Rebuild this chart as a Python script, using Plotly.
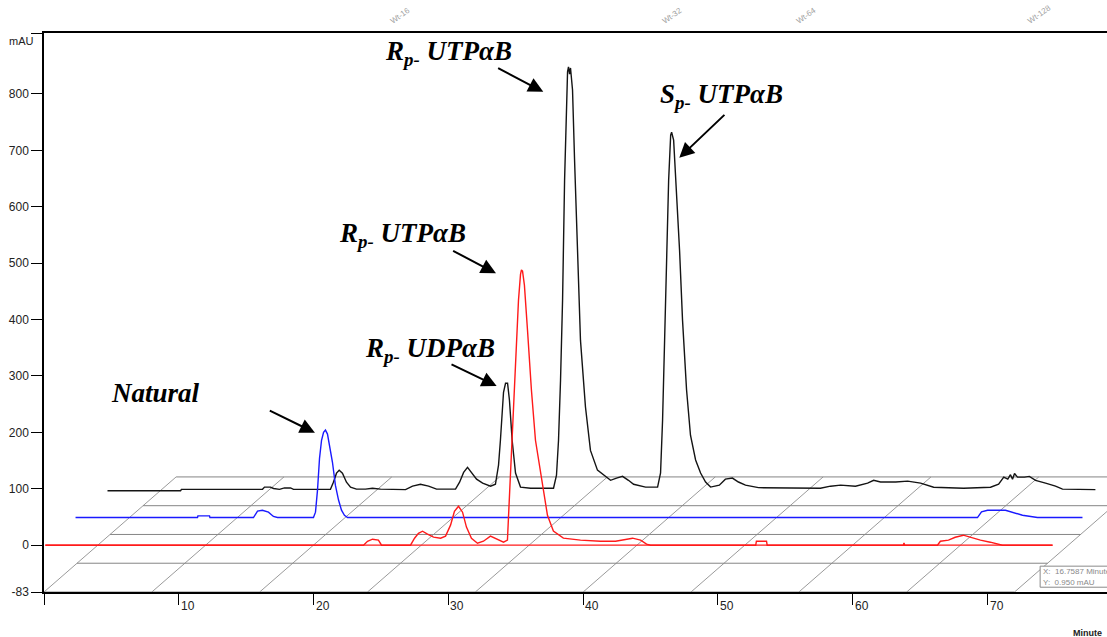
import plotly.graph_objects as go

# ---- chromatogram data: retention time (min) / absorbance (mAU) ----
# front run (red)
red_t = [0.1, 23.7, 24.0, 24.37, 24.81, 25.04, 27.19, 27.49, 27.78, 28.08, 28.45, 28.9,
         29.42, 29.79, 30.16, 30.45, 30.75, 31.05, 31.34, 31.71, 32.16, 32.6, 33.12, 33.57,
         34.09, 34.38, 34.61, 34.83, 35.05, 35.2, 35.35, 35.42, 35.5, 35.64, 35.87, 36.16,
         36.46, 36.83, 37.13, 37.35, 37.79, 38.53, 39.8, 41.28, 42.4, 43.14, 43.66, 44.26,
         44.7, 45.0, 52.8, 52.85, 53.6, 53.65, 63.75, 63.8, 63.85, 66.28, 66.5, 67.1, 67.6,
         68.2, 68.7, 69.47, 70.2, 71.1, 74.82]
red_v = [0, 0, 7, 10.6, 8.9, 0, 0, 12.4, 21, 24.8, 19.5, 14.2,
         12.4, 16, 35.5, 60, 69, 58.5, 32, 12.4, 3.5, 7, 16, 10.6,
         5.3, 8.9, 124, 248, 355, 434, 480, 488, 486, 461, 381, 275,
         186, 128, 80, 53, 25, 12.4, 8.9, 7, 7, 10.6, 12.4, 8.9,
         1.8, 0, 0, 7, 7, 0, 0, 4, 0, 0, 7, 8.9, 14,
         17.7, 14, 8.9, 5.3, 0, 0]

# middle run (blue)
blue_t = [0.04, 9.09, 9.12, 9.98, 10.01, 13.24, 13.54, 13.9, 14.35, 14.72, 15.02, 17.69,
          17.84, 17.99, 18.14, 18.29, 18.44, 18.58, 18.73, 18.88, 19.1, 19.32, 19.55, 19.77,
          19.99, 20.22, 66.95, 67.25, 67.7, 69.03, 69.77, 70.29, 71.4, 74.74]
blue_v = [0, 0, 3, 3, 0, 0, 11.3, 13, 9.5, 2, 0, 0,
          9.5, 48.5, 105, 137, 151, 155, 148, 128, 98, 57, 31, 13,
          4, 0, 0, 10, 13, 13, 8, 4, 0, 0]

# back run (black)
black_t = [0.11, 5.53, 5.6, 11.61, 11.76, 12.2, 12.43, 12.87, 13.24, 13.69, 13.91, 16.65,
           16.87, 17.1, 17.3, 17.54, 17.84, 18.14, 18.58, 19.25, 19.77, 20.36, 22.22, 22.74,
           23.33, 23.93, 24.52, 25.93, 26.23, 26.53, 26.82, 27.12, 27.49, 27.94, 28.53, 28.89,
           29.12, 29.26, 29.49, 29.64, 29.79, 29.93, 30.13, 30.38, 30.75, 31.5, 33.2, 33.42,
           33.57, 33.72, 33.87, 34.02, 34.17, 34.24, 34.31, 34.39, 34.46, 34.61, 34.76, 34.98,
           35.2, 35.57, 35.94, 36.46, 37.43, 37.87, 38.32, 38.76, 39.14, 40.03, 40.92, 41.14,
           41.29, 41.44, 41.59, 41.74, 41.89, 41.96, 42.11, 42.33, 42.55, 42.77, 43.07, 43.36,
           43.74, 44.11, 44.48, 44.85, 45.5, 45.95, 46.47, 46.92, 47.44, 48.4, 50.78, 53.0,
           53.75, 54.5, 55.6, 56.5, 56.95, 57.46, 58.58, 59.47, 60.43, 61.4, 63.62, 65.62,
           66.22, 66.6, 66.9, 67.1, 67.25, 67.4, 67.62, 68.14, 68.5, 68.96, 69.7, 70.44,
           70.96, 73.4]
black_v = [-1.5, -1.5, 1, 1, 5, 5, 2.5, 1, 3.5, 3.5, 1, 1,
           13.7, 29.7, 35, 29.7, 13.7, 4.8, 1.3, 1.3, 3, 1.3, 0.5, 6.6,
           10, 6.6, 1.3, 1.3, 13.7, 31, 40, 31, 19, 12, 6.6, 10,
           44, 88, 173, 189, 189, 159, 88, 30, 5, 3, 3, 26,
           88, 195, 336, 549, 709, 741, 750, 737, 748, 709, 585, 407,
           265, 147, 70, 35, 17, 21, 24, 17, 10, 5, 5, 30,
           124, 265, 425, 549, 629, 634, 620, 531, 425, 301, 177, 97,
           53, 30, 14, 5, 8.4, 19, 21, 14, 8.4, 4, 3, 3,
           6.6, 8.4, 6.6, 12, 17, 14, 14, 15.5, 12, 4.8, 3, 4.8,
           10, 22.6, 19, 27, 19, 29, 22.6, 22.6, 24, 17, 12, 6.6,
           1.3, 0.5]

# axis ticks
x_ticks = [0, 10, 20, 30, 40, 50, 60, 70]
x_tick_labels = ["", "10", "20", "30", "40", "50", "60", "70"]
y_ticks = [-83, 0, 100, 200, 300, 400, 500, 600, 700, 800, 907]
y_tick_labels = ["-83", "0", "100", "200", "300", "400", "500", "600", "700", "800", ""]

# upper marker labels
top_marks_t = [25.74, 45.92, 55.86, 73.0]
top_marks = ["Wt-16", "Wt-32", "Wt-64", "Wt-128"]

X_RANGE = [0, 78.86]
Y_RANGE = [-83, 908]

# pseudo-3D stacking of the runs
DEPTH_DT = 2.3     # min per depth level
DEPTH_DV = 49      # mAU per depth level
# floor grid
FLOOR_DT = 2.45
FLOOR_DV = 51
FLOOR_LEVELS = 5
FLOOR_SPAN = 72
FLOOR_STEP = 8

fig = go.Figure()

# floor grid: depth lines (horizontal) and time lines (slanted)
hx, hy = [], []
for k in range(FLOOR_LEVELS):
    hx += [k * FLOOR_DT, FLOOR_SPAN + k * FLOOR_DT, None]
    hy += [Y_RANGE[0] + k * FLOOR_DV] * 2 + [None]
dx, dy = [], []
back = (FLOOR_LEVELS - 1)
for t0 in range(0, FLOOR_SPAN + 1, FLOOR_STEP):
    dx += [t0, t0 + back * FLOOR_DT, None]
    dy += [Y_RANGE[0], Y_RANGE[0] + back * FLOOR_DV, None]
fig.add_trace(go.Scatter(x=dx, y=dy, mode="lines",
                         line=dict(color="#9a9a9a", width=1), hoverinfo="skip"))
fig.add_trace(go.Scatter(x=hx, y=hy, mode="lines",
                         line=dict(color="#858585", width=1), hoverinfo="skip"))


def stacked(ts, vs, level):
    return ([t + level * DEPTH_DT for t in ts], [v + level * DEPTH_DV for v in vs])


runs = [(black_t, black_v, 2, "#141414"),
        (blue_t, blue_v, 1, "#1a1aff"),
        (red_t, red_v, 0, "#ff1a1a")]
for ts, vs, lvl, col in runs:
    if lvl == 0:
        # integration baseline of the front run
        bx, by = stacked([ts[0], ts[-1]], [0, 0], lvl)
        fig.add_trace(go.Scatter(x=bx, y=by, mode="lines",
                                 line=dict(color=col, width=1.3), hoverinfo="skip"))
    sx, sy = stacked(ts, vs, lvl)
    fig.add_trace(go.Scatter(x=sx, y=sy, mode="lines",
                             line=dict(color=col, width=1.4), hoverinfo="skip"))

annotations = []
tick_font = dict(family="Liberation Sans, Arial, sans-serif", size=12, color="#222")
for t, lab in zip(x_ticks, x_tick_labels):
    if lab:
        annotations.append(dict(x=t, y=0, xref="x", yref="paper", text=lab,
                                showarrow=False, xanchor="left", yanchor="middle",
                                xshift=0, yshift=-14, font=tick_font))
annotations.append(dict(x=0, y=1, xref="paper", yref="paper", text="mAU",
                        showarrow=False, xanchor="right", yanchor="middle",
                        xshift=-8, yshift=-8,
                        font=dict(family="Liberation Sans, Arial, sans-serif", size=11, color="#222")))
annotations.append(dict(x=76.2, y=0, xref="x", yref="paper", text="<b>Minute</b>",
                        showarrow=False, xanchor="left", yanchor="middle", yshift=-41,
                        font=dict(family="Liberation Sans, Arial, sans-serif", size=9, color="#222")))
for t, lab in zip(top_marks_t, top_marks):
    annotations.append(dict(x=t, y=1, xref="x", yref="paper", text=lab, showarrow=False,
                            textangle=-35, xanchor="left", yanchor="bottom",
                            xshift=-5, yshift=5,
                            font=dict(family="Liberation Sans, Arial, sans-serif", size=8, color="#a0a0a0")))

# cursor readout box
info_font = dict(family="Liberation Sans, Arial, sans-serif", size=8, color="#8a8a8a")
annotations.append(dict(x=74.0, y=-47.5, xref="x", yref="y", text="X:  16.7587 Minute",
                        showarrow=False, xanchor="left", yanchor="middle", font=info_font))
annotations.append(dict(x=74.0, y=-65.5, xref="x", yref="y", text="Y:  0.950 mAU",
                        showarrow=False, xanchor="left", yanchor="middle", font=info_font))

# peak labels
lab_font = dict(family="Liberation Serif, serif", size=27, color="black")
labels = [
    ("<b><i>Natural</i></b>", 8.3, 269),
    ("<b><i>R<sub>p-</sub> UDPαB</i></b>", 28.64, 346),
    ("<b><i>R<sub>p-</sub> UTPαB</i></b>", 26.6, 550),
    ("<b><i>R<sub>p-</sub> UTPαB</i></b>", 30.0, 872),
    ("<b><i>S<sub>p-</sub> UTPαB</i></b>", 50.26, 797),
]
for txt, t, v in labels:
    annotations.append(dict(x=t, y=v, xref="x", yref="y", text=txt, showarrow=False,
                            xanchor="center", yanchor="middle", font=lab_font))

# arrows: (head t, head v, tail t, tail v)
arrows = [
    (20.10, 199.4, 16.64, 239.7),
    (33.58, 282.0, 30.12, 322.0),
    (33.53, 481.9, 30.24, 523.2),
    (37.04, 803.7, 33.58, 847.0),
    (47.13, 686.7, 50.59, 765.4),
]
for ht, hv, tt, tv in arrows:
    annotations.append(dict(x=ht, y=hv, ax=tt, ay=tv, xref="x", yref="y",
                            axref="x", ayref="y", text="", showarrow=True,
                            arrowhead=2, arrowsize=1.5, arrowwidth=2,
                            arrowcolor="black", standoff=0))

fig.update_layout(
    width=1107, height=637,
    margin=dict(l=44, r=0, t=33, b=45),
    paper_bgcolor="white", plot_bgcolor="white",
    showlegend=False, hovermode=False,
    annotations=annotations,
    shapes=[dict(type="rect", xref="x", yref="y", x0=73.9, x1=80, y0=-74.5, y1=-37.2,
                 line=dict(color="#8a8a8a", width=1), fillcolor="white", layer="above")],
    xaxis=dict(range=X_RANGE, showgrid=False, zeroline=False, showline=True,
               linecolor="black", linewidth=1.5, mirror=True,
               ticks="outside", ticklen=11, tickwidth=1.3, tickcolor="black",
               tickvals=x_ticks, showticklabels=False),
    yaxis=dict(range=Y_RANGE, showgrid=False, zeroline=False, showline=True,
               linecolor="black", linewidth=1.5,
               ticks="outside", ticklen=11, tickwidth=1.3, tickcolor="black",
               tickvals=y_ticks, ticktext=y_tick_labels, tickfont=tick_font),
)

fig.write_html("out.html", config={"displayModeBar": False})
